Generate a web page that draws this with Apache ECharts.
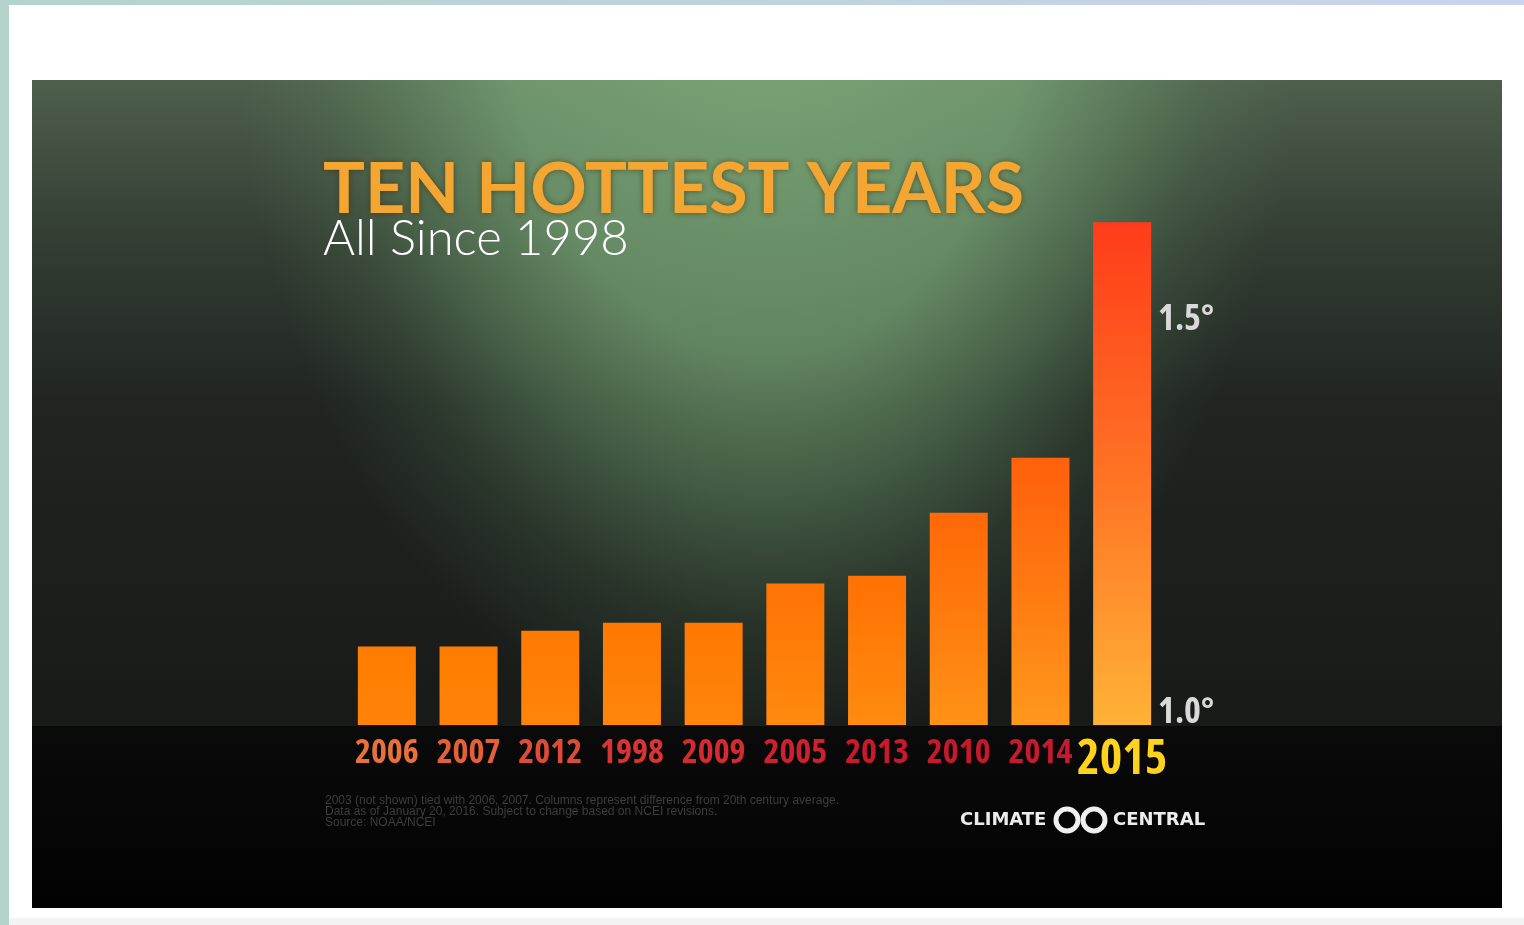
<!DOCTYPE html>
<html>
<head>
<meta charset="utf-8">
<script src="https://cdn.jsdelivr.net/npm/echarts@6/dist/echarts.min.js"></script>
<style>
  html, body { margin: 0; padding: 0; background: #fff; }
  #chart { width: 1524px; height: 925px; }
</style>
</head>
<body>
<div id="chart"></div>
<script>
// ---- data ----
const years = ['2006', '2007', '2012', '1998', '2009', '2005', '2013', '2010', '2014', '2015'];
const anomalies = [1.10, 1.10, 1.12, 1.13, 1.13, 1.18, 1.19, 1.27, 1.34, 1.64];
const yTickValues = [1.0, 1.5];
const yTickLabels = ['1.0°', '1.5°'];
const titleText = 'TEN HOTTEST YEARS';
const subtitleText = 'All Since 1998';
const footnotes = [
  '2003 (not shown) tied with 2006, 2007. Columns represent difference from 20th century average.',
  'Data as of January 20, 2016. Subject to change based on NCEI revisions.',
  'Source: NOAA/NCEI'
];

// ---- styling helpers ----
const labelColors = ['#e8703c', '#e4603a', '#de4c38', '#d83432', '#d42a30', '#cf202e', '#c91a2c', '#c8182c', '#c81a2e', '#ffd21e'];
function mix(a, b, t) {
  const pa = [1,3,5].map(i => parseInt(a.substr(i,2),16));
  const pb = [1,3,5].map(i => parseInt(b.substr(i,2),16));
  return 'rgb(' + pa.map((v,k) => Math.round(v + (pb[k]-v)*t)).join(',') + ')';
}
const vmin = Math.min(...anomalies), vmax = Math.max(...anomalies);
function barColor(params) {
  const t = (params.value - vmin) / (vmax - vmin);
  return new echarts.graphic.LinearGradient(0, 0, 0, 1, [
    { offset: 0, color: mix('#ff7c00', '#ff3c1a', t) },
    { offset: 0.5, color: mix('#ff8004', '#ff7224', t) },
    { offset: 1, color: mix('#ff8308', '#ffb236', t) }
  ]);
}
const condFamily = '"Open Sans", Roboto, sans-serif';
const rich = {};
years.forEach((y, i) => {
  const last = i === years.length - 1;
  rich['c' + i] = {
    color: labelColors[i],
    fontFamily: condFamily,
    fontStyle: 'condensed',
    fontWeight: 'bold',
    fontSize: last ? 48 : 34,
    lineHeight: last ? 48 : 34
  };
});

const chart = echarts.init(document.getElementById('chart'));
chart.setOption({
  backgroundColor: '#ffffff',
  animation: false,
  title: {
    text: titleText,
    subtext: subtitleText,
    left: 318,
    top: 150,
    itemGap: -10,
    textStyle: {
      fontFamily: 'Lato, "Open Sans", sans-serif',
      fontWeight: 'bold',
      fontSize: 70,
      color: '#f4a632',
      textShadowColor: 'rgba(60,40,0,0.6)',
      textShadowBlur: 6
    },
    subtextStyle: {
      fontFamily: 'Lato, "Open Sans", sans-serif',
      fontWeight: 300,
      fontSize: 49,
      color: '#ffffff'
    }
  },
  grid: { left: 346, right: 1524 - 1163, top: 175, bottom: 200, containLabel: false },
  xAxis: {
    type: 'category',
    data: years,
    axisLine: { show: false },
    axisTick: { show: false },
    axisLabel: {
      interval: 0,
      margin: 11,
      verticalAlign: 'top',
      hideOverlap: false,
      formatter: (v, i) => '{c' + i + '|' + v + '}',
      rich: rich
    }
  },
  yAxis: {
    type: 'value',
    position: 'right',
    min: 1.0,
    max: 1.7,
    interval: 0.5,
    axisLine: { show: false },
    axisTick: { show: false },
    splitLine: { show: false },
    axisLabel: {
      margin: -5,
      align: 'left',
      verticalAlign: 'bottom',
      color: '#d9d9d9',
      fontFamily: condFamily,
      fontStyle: 'condensed',
      fontWeight: 'bold',
      fontSize: 36,
      lineHeight: 24,
      formatter: (v) => {
        const k = yTickValues.findIndex(t => Math.abs(t - v) < 1e-6);
        return k >= 0 ? yTickLabels[k] : '';
      }
    }
  },
  series: [{
    type: 'bar',
    data: anomalies,
    barWidth: 58,
    itemStyle: { color: barColor },
    z: 5
  }],
  graphic: [
    { type: 'rect', z: -20, shape: { x: 0, y: 0, width: 9, height: 925 }, style: { fill: '#b3d3cb' } },
    { type: 'rect', z: -20, shape: { x: 0, y: 0, width: 1524, height: 5 },
      style: { fill: new echarts.graphic.LinearGradient(0, 0, 1, 0, [
        { offset: 0, color: '#b4d3cc' }, { offset: 1, color: '#c9d4ee' }]) } },
    { type: 'rect', z: -20, shape: { x: 9, y: 918, width: 1515, height: 7 }, style: { fill: '#f3f3f3' } },
    // panel base
    { type: 'rect', z: -15, shape: { x: 32, y: 80, width: 1470, height: 646 },
      style: { fill: new echarts.graphic.LinearGradient(0, 0, 0, 1, [
        { offset: 0, color: '#4e5f4c' },
        { offset: 0.25, color: '#333d33' },
        { offset: 0.5, color: '#202521' },
        { offset: 1, color: '#181a18' }]) } },
    // green spotlight (ellipse, taller than wide)
    { type: 'rect', z: -14, x: 32, y: 80, scaleX: 1, scaleY: 1.5,
      shape: { x: 0, y: 0, width: 1470, height: 646 / 1.5 },
      style: { fill: new echarts.graphic.RadialGradient(0.5, -0.2, 1.393, [
        { offset: 0, color: 'rgba(134,184,132,0.78)' },
        { offset: 0.45, color: 'rgba(128,178,126,0.66)' },
        { offset: 0.6, color: 'rgba(120,170,120,0.42)' },
        { offset: 0.75, color: 'rgba(110,160,110,0.16)' },
        { offset: 0.9, color: 'rgba(100,150,100,0)' }]) } },
    // bottom black band
    { type: 'rect', z: -12, shape: { x: 32, y: 726, width: 1470, height: 182 },
      style: { fill: new echarts.graphic.LinearGradient(0, 0, 0, 1, [
        { offset: 0, color: '#0a0a0a' }, { offset: 1, color: '#020202' }]) } },
    { type: 'text', z: 10, x: 325, y: 795,
      style: { text: footnotes.join('\n'), fill: '#3e3e3e', font: '12px "Liberation Sans", sans-serif', lineHeight: 11 } },
    { type: 'text', z: 10, x: 960, y: 811,
      style: { text: 'CLIMATE', fill: '#ececec', font: 'bold 18px "DejaVu Sans", sans-serif' } },
    { type: 'circle', z: 10, shape: { cx: 1067, cy: 820, r: 11 },
      style: { fill: 'none', stroke: '#f0f0f0', lineWidth: 5 } },
    { type: 'circle', z: 10, shape: { cx: 1094, cy: 820, r: 11 },
      style: { fill: 'none', stroke: '#f0f0f0', lineWidth: 5 } },
    { type: 'text', z: 10, x: 1113, y: 811,
      style: { text: 'CENTRAL', fill: '#ececec', font: 'bold 18px "DejaVu Sans", sans-serif' } }
  ]
});
</script>
</body>
</html>
